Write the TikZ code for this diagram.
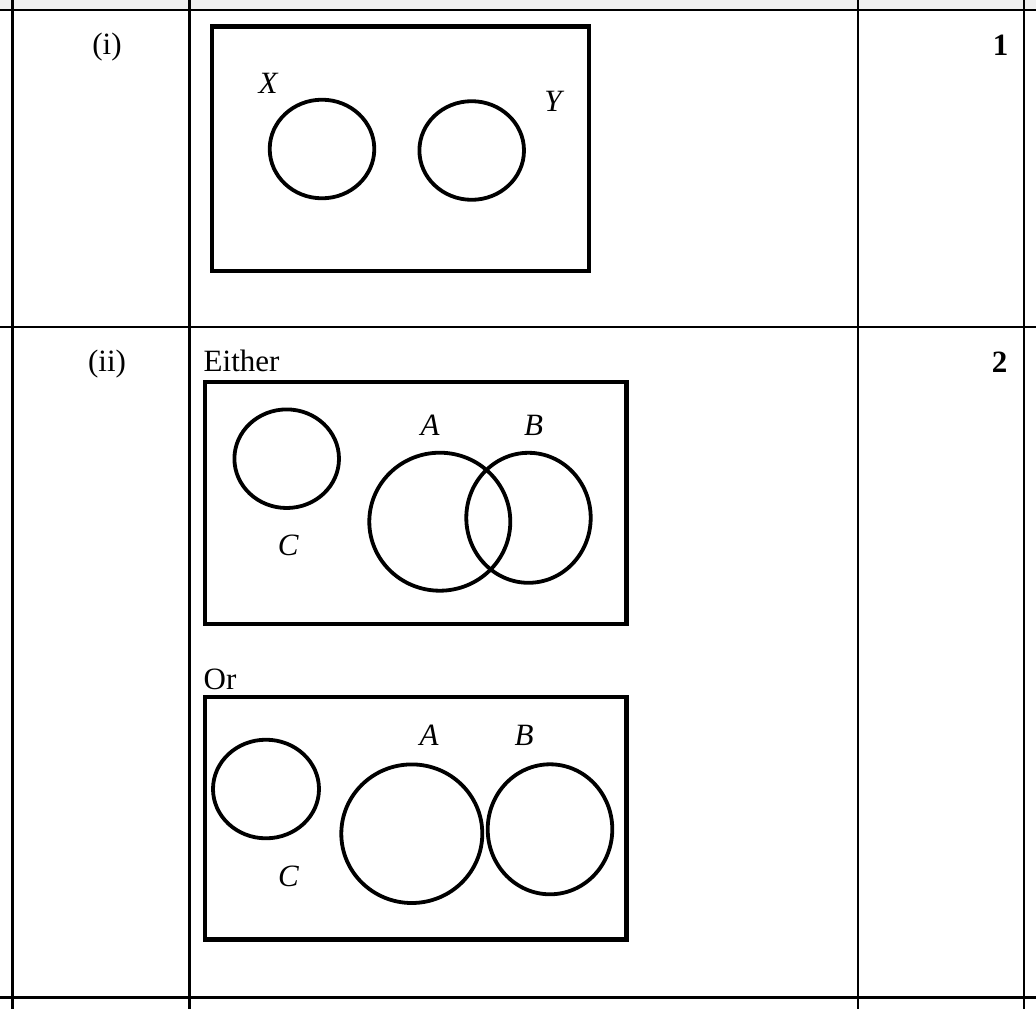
\documentclass[tikz,border=0pt]{standalone}
\usepackage{fontspec}
\setmainfont{Liberation Serif}
\begin{document}
\begin{tikzpicture}[x=1pt,y=-1pt,
  gridline/.style={line width=2.6pt},
  frame/.style={line width=4.4pt},
  setc/.style={line width=3.8pt},
  txt/.style={inner sep=0pt,font=\fontsize{31}{36}\selectfont},
  lbl/.style={inner sep=0pt,font=\fontsize{31}{36}\selectfont\itshape},
  mark1/.style={inner sep=0pt,font=\fontsize{31}{36}\selectfont\bfseries}]
\useasboundingbox (0,0) rectangle (1036,1009);
\fill[white] (0,0) rectangle (1036,1009);
\fill[black!6] (0,0) rectangle (1036,10);
% table lines
\draw[gridline] (0,10) -- (1036,10);
\draw[gridline] (0,327) -- (1036,327);
\draw[gridline] (0,997.5) -- (1036,997.5);
\draw[gridline] (12.2,0) -- (12.2,1009);
\draw[gridline] (189.2,0) -- (189.2,1009);
\draw[gridline] (857.8,0) -- (857.8,1009);
\draw[gridline] (1023.8,0) -- (1023.8,1009);
% row (i)
\node[txt,anchor=base] (ri) at (107,54) {(i)};
\node[mark1,anchor=base] (m1) at (1000.5,55) {1};
\draw[frame] (212,26.5) rectangle (589,271);
\draw[setc] (322,149) ellipse [x radius=52.3,y radius=49.3];
\draw[setc] (471.7,150.5) ellipse [x radius=52.3,y radius=49.3];
\node[lbl] (X) at (268,83) {X};
\node[lbl] (Y) at (553,101.5) {Y};
% row (ii)
\node[txt,anchor=base] (rii) at (107,371) {(ii)};
\node[mark1,anchor=base] (m2) at (999.5,372) {2};
\node[txt,anchor=base west] (either) at (203.5,371.7) {Either};
\draw[frame] (205,381.7) rectangle (626.5,624);
\draw[setc] (286.7,458.7) ellipse [x radius=52.3,y radius=49.3];
\draw[setc] (439.8,521.7) ellipse [x radius=70.5,y radius=69];
\draw[setc] (528.5,517.8) ellipse [x radius=62.2,y radius=65];
\node[lbl] (C1) at (288.3,545.5) {C};
\node[lbl] (A1) at (430,425) {A};
\node[lbl] (B1) at (533.5,425) {B};
\node[txt,anchor=base west] (or) at (203.5,689) {Or};
\draw[frame] (205,696.7) rectangle (626.5,939.5);
\draw[setc] (266,789) ellipse [x radius=53,y radius=49.3];
\draw[setc] (411.8,833.7) ellipse [x radius=70.5,y radius=69.3];
\draw[setc] (550,829.3) ellipse [x radius=62.3,y radius=65];
\node[lbl] (C2) at (288.5,876) {C};
\node[lbl] (A2) at (429,735) {A};
\node[lbl] (B2) at (524,735) {B};
\end{tikzpicture}
\end{document}
